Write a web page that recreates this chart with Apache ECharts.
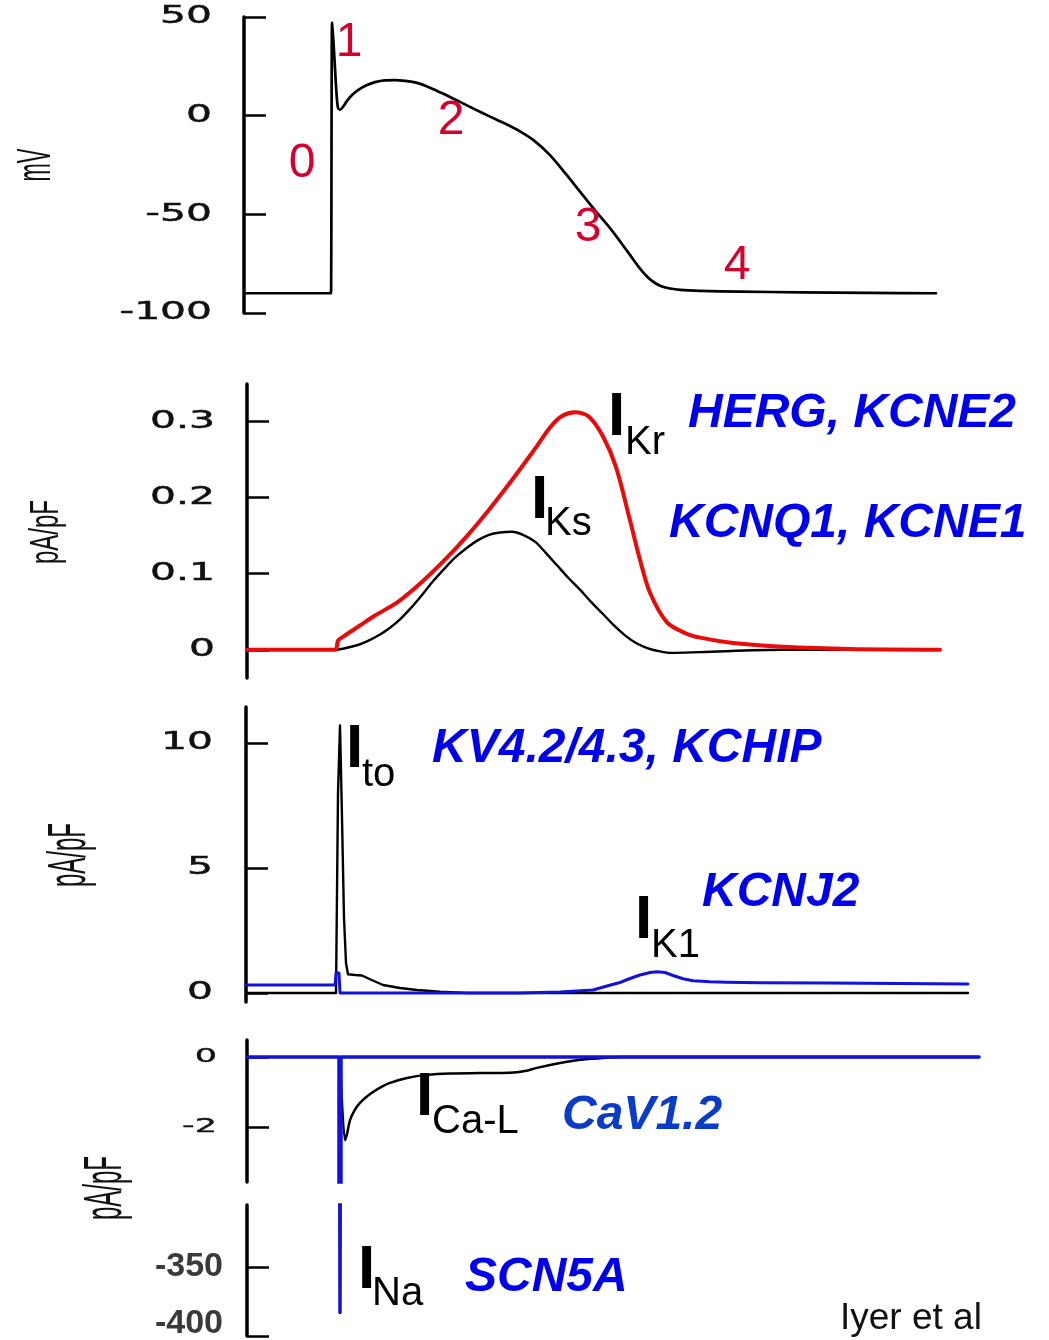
<!DOCTYPE html>
<html>
<head>
<meta charset="utf-8">
<title>Cardiac action potential and ionic currents</title>
<script src="https://cdn.jsdelivr.net/npm/echarts@6/dist/echarts.min.js"></script>
<style>
  html, body { margin: 0; padding: 0; background: #ffffff; }
  #chart { width: 1049px; height: 1340px; }
</style>
</head>
<body>
<div id="chart"></div>
<script>
// Time in ms, upstroke of the action potential at t = 0.

// Action potential (mV)
const apTime = [-86, -1, 0, 1, 2, 3, 4, 5, 6, 7, 9, 12, 16, 21, 27, 35, 44, 54, 64, 74, 86,
  99, 114, 129, 144, 159, 174, 189, 204, 219, 234, 249, 264, 279, 291, 301, 309, 317, 324, 331, 339,
  349, 369, 409, 469, 539, 605];
const apMv = [-90, -90, -90, 47, 41, 33, 24, 15, 8, 4, 3, 4.5, 7.5, 10.5, 13, 15.3, 17, 17.9, 18, 17.6, 16.6,
  14.2, 10.7, 7, 3.2, -0.5, -4, -8, -13, -20, -29, -38.5, -48, -57, -65, -72, -77.5, -82, -84.8, -86.6, -87.6,
  -88.3, -88.8, -89.2, -89.5, -89.8, -90];

// I_Kr (pA/pF)
const ikrTime = [-84, 4, 7, 13, 29, 44, 67, 90, 113, 135, 158, 181, 204, 219, 231, 244, 258, 272, 285, 299,
  309, 319, 336, 354, 369, 402, 452, 519, 609];
const ikrVal = [0, 0, 0.012, 0.018, 0.032, 0.045, 0.063, 0.088, 0.117, 0.148, 0.184, 0.223, 0.264, 0.292, 0.307,
  0.312, 0.306, 0.280, 0.240, 0.170, 0.118, 0.075, 0.036, 0.022, 0.016, 0.009, 0.004, 0.001, 0];

// I_Ks (pA/pF)
const iksTime = [-84, 4, 14, 26, 36, 49, 59, 69, 80, 91, 102, 113, 124, 136, 147, 158, 169, 181, 192, 204,
  215, 226, 237, 249, 260, 272, 283, 294, 305, 317, 329, 341, 369, 452, 609];
const iksVal = [0, 0, 0.002, 0.006, 0.011, 0.020, 0.029, 0.040, 0.055, 0.072, 0.090, 0.106, 0.121, 0.134, 0.144,
  0.151, 0.154, 0.155, 0.151, 0.142, 0.127, 0.111, 0.095, 0.079, 0.063, 0.047, 0.032, 0.019, 0.009, 0.002,
  -0.002, -0.004, -0.003, 0, 0];

// I_to (pA/pF)
const itoTime = [-85, 5, 7, 9, 11, 13, 15, 17, 24, 31, 39, 52, 69, 86, 109, 136, 637];
const itoVal = [0, 0, 8, 10.7, 7, 3, 1.2, 0.75, 0.72, 0.7, 0.55, 0.32, 0.2, 0.12, 0.05, 0, 0];

// I_K1 (pA/pF)
const ik1Time = [-85, 4, 5, 8, 9, 189, 229, 262, 276, 289, 299, 309, 319, 326, 334, 342, 352, 362, 379, 396,
  429, 496, 569, 637];
const ik1Val = [0.32, 0.32, 0.8, 0.8, 0, 0, 0.04, 0.12, 0.28, 0.42, 0.58, 0.72, 0.82, 0.85, 0.82, 0.7, 0.57, 0.49,
  0.45, 0.43, 0.41, 0.40, 0.38, 0.36];

// I_Ca-L (pA/pF)
const icaTime = [9, 14, 16, 19, 24, 29, 35, 42, 50, 59, 76, 96, 119, 149, 179, 194, 206, 229, 244, 257, 275, 289, 648];
const icaVal = [0, -2.38, -2.2, -1.8, -1.5, -1.31, -1.15, -1.0, -0.86, -0.74, -0.6, -0.51, -0.47, -0.46, -0.45,
  -0.4, -0.31, -0.17, -0.1, -0.06, -0.02, 0, 0];

// I_Na (pA/pF), shown on a broken axis
const inaTime = [-84, 8, 9, 10, 648];
const inaVal = [0, 0, -383, 0, 0];

// Tick values for each panel
const apTicks = [-100, -50, 0, 50];
const ikTicks = [0, 0.1, 0.2, 0.3];
const itoTicks = [0, 5, 10];
const icaTicks = [-2, 0];
const inaTicks = [-400, -350];

// Panel layout
const T0_PX = 331;     // pixel column of t = 0
const RIGHT_PX = 985;  // right edge of every plot area
const WIDE_FONT = '24px "DejaVu Sans"';
const panels = [
  { left: 244, top: 17,   height: 296, min: -100,  max: 50,     ticks: apTicks,
    labelRight: 212, labelFont: WIDE_FONT, labelScale: 1.7, labelFill: '#111', labelStroke: 0.5 },
  { left: 247, top: 384,  height: 294, min: -0.037, max: 0.349, ticks: ikTicks,
    labelRight: 215, labelFont: WIDE_FONT, labelScale: 1.7, labelFill: '#111', labelStroke: 0.5 },
  { left: 246, top: 707,  height: 295, min: -0.36, max: 11.44,  ticks: itoTicks,
    labelRight: 213, labelFont: WIDE_FONT, labelScale: 1.7, labelFill: '#111', labelStroke: 0.5 },
  { left: 247, top: 1040, height: 142, min: -3.57, max: 0.486,  ticks: icaTicks,
    labelRight: 217, labelFont: '20px "DejaVu Sans"', labelScale: 1.75, labelFill: '#111', labelStroke: 0.4 },
  { left: 247, top: 1205, height: 131, min: -400,  max: -305.1, ticks: inaTicks,
    labelRight: 223, labelFont: 'bold 34px "Liberation Sans"', labelScale: 1.0, labelFill: '#3a3a3a', labelStroke: 0 }
];

const pairs = (t, v) => t.map((x, i) => [x, v[i]]);

const grids = panels.map(p => ({
  left: p.left, top: p.top, width: RIGHT_PX - p.left, height: p.height, containLabel: false
}));

const xAxes = panels.map((p, i) => ({
  type: 'value', gridIndex: i, min: p.left - T0_PX, max: RIGHT_PX - T0_PX, show: false
}));

const yAxes = panels.map((p, i) => ({
  type: 'value', gridIndex: i, min: p.min, max: p.max,
  axisLine: { show: true, onZero: false, lineStyle: { color: '#000', width: 3.5 } },
  axisTick: { show: true, inside: true, length: 22, customValues: p.ticks,
              lineStyle: { color: '#000', width: 2.5 } },
  axisLabel: { show: false },
  splitLine: { show: false }
}));

function trace(panel, data, color, width, smooth) {
  return {
    type: 'line', xAxisIndex: panel, yAxisIndex: panel, data: data,
    showSymbol: false, symbol: 'none', smooth: smooth || false,
    silent: true, animation: false, clip: true,
    lineStyle: { color: color, width: width, cap: 'round', join: 'round' }
  };
}

const BLUE_LINE = '#1212d8';
const RED_LINE = '#ea0a0a';

const series = [
  trace(0, pairs(apTime, apMv), '#000', 2.7, 0.25),
  trace(1, pairs(iksTime, iksVal), '#000', 2.4, 0.3),
  trace(1, pairs(ikrTime, ikrVal), RED_LINE, 4, 0.3),
  trace(2, pairs(itoTime, itoVal), '#000', 2.4, false),
  trace(2, pairs(ik1Time, ik1Val), BLUE_LINE, 3, false),
  trace(3, pairs(icaTime, icaVal), '#000', 2.5, 0.3),
  trace(3, pairs(inaTime, inaVal), BLUE_LINE, 3.5, false),
  trace(4, pairs(inaTime, inaVal), BLUE_LINE, 3.5, false)
];

const chart = echarts.init(document.getElementById('chart'), null, { renderer: 'canvas' });
chart.setOption({
  backgroundColor: '#ffffff',
  animation: false,
  grid: grids,
  xAxis: xAxes,
  yAxis: yAxes,
  series: series
});

// ---- text layer ----
function txt(text, x, y, font, fill, align, extra) {
  return Object.assign({
    type: 'text', x: x, y: y, silent: true, z: 10,
    style: { text: text, font: font, fill: fill,
             align: align, textAlign: align,
             verticalAlign: 'middle', textVerticalAlign: 'middle' }
  }, extra || {});
}

const graphics = [];

// tick labels, placed from each axis scale
panels.forEach((p, i) => {
  p.ticks.forEach(v => {
    let y = chart.convertToPixel({ yAxisIndex: i }, v);
    // keep the lowest label of the bottom panel inside the page
    if (i === 4 && v === p.min) y -= 12;
    const el = txt(String(v), p.labelRight, y, p.labelFont, p.labelFill, 'right',
                   { scaleX: p.labelScale, scaleY: 1 });
    if (p.labelStroke) {
      el.style.stroke = p.labelFill;
      el.style.lineWidth = p.labelStroke;
    }
    graphics.push(el);
  });
});

// axis names (rotated)
const axisNames = [
  { text: 'mV',    x: 37,  y: 165,  size: 22, stretch: 2.2 },
  { text: 'pA/pF', x: 47,  y: 532,  size: 24, stretch: 1.7 },
  { text: 'pA/pF', x: 70,  y: 855,  size: 24, stretch: 2.2 },
  { text: 'pA/pF', x: 106, y: 1188, size: 24, stretch: 2.2 }
];
axisNames.forEach(n => {
  graphics.push(txt(n.text, n.x, n.y, n.size + 'px "Liberation Sans"', '#111', 'center',
                    { rotation: Math.PI / 2, scaleX: 1, scaleY: n.stretch }));
});

// phase numbers of the action potential
const PHASE_RED = '#d5002c';
[['0', 302, 164], ['1', 349, 43], ['2', 451, 121], ['3', 588, 228], ['4', 737, 266]].forEach(d => {
  graphics.push(txt(d[0], d[1], d[2], '48px "Liberation Sans"', PHASE_RED, 'center'));
});

// current names: large I with a subscript
const currents = [
  { sub: 'Kr',   ix: 608, iy: 418, sx: 625, sy: 443 },
  { sub: 'Ks',   ix: 531, iy: 501, sx: 545, sy: 524 },
  { sub: 'to',   ix: 346, iy: 750, sx: 362, sy: 775 },
  { sub: 'K1',   ix: 635, iy: 921, sx: 651, sy: 946 },
  { sub: 'Ca-L', ix: 416, iy: 1098, sx: 432, sy: 1122 },
  { sub: 'Na',   ix: 358, iy: 1271, sx: 372, sy: 1294 }
];
currents.forEach(c => {
  graphics.push(txt('I', c.ix, c.iy, 'bold 62px "Liberation Sans"', '#000', 'left'));
  graphics.push(txt(c.sub, c.sx, c.sy, '40px "Liberation Sans"', '#000', 'left'));
});

// channel genes
const GENE_BLUE = '#0000ee';
const genes = [
  { text: 'HERG, KCNE2',       x: 688, y: 414,  color: GENE_BLUE },
  { text: 'KCNQ1, KCNE1',      x: 669, y: 524,  color: GENE_BLUE },
  { text: 'KV4.2/4.3, KCHIP',  x: 432, y: 749,  color: GENE_BLUE },
  { text: 'KCNJ2',             x: 702, y: 893,  color: GENE_BLUE },
  { text: 'CaV1.2',            x: 562, y: 1116, color: '#0a3cc8' },
  { text: 'SCN5A',             x: 465, y: 1278, color: GENE_BLUE }
];
genes.forEach(g => {
  graphics.push(txt(g.text, g.x, g.y, 'italic bold 48px "Liberation Sans"', g.color, 'left'));
});

// source
graphics.push(txt('Iyer et al', 840, 1319, '37px "Liberation Sans"', '#111', 'left'));

chart.setOption({ graphic: { elements: graphics } });
</script>
</body>
</html>
